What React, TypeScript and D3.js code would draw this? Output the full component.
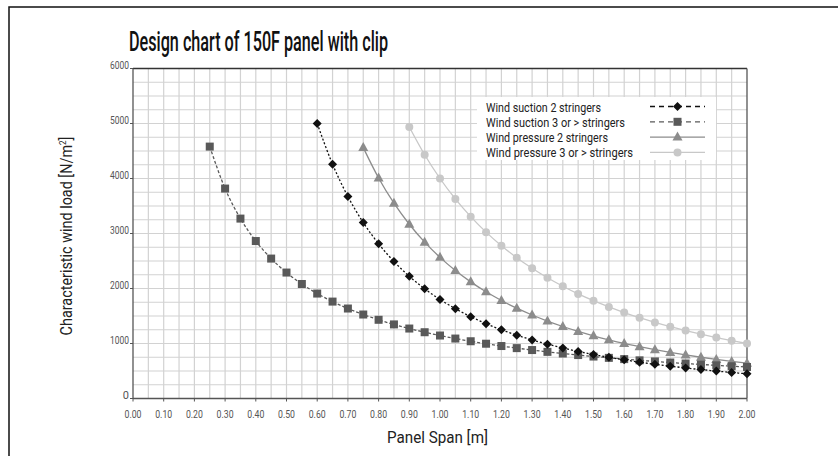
import React from "react";
import * as d3 from "d3";

const spanSuction2 = [0.6, 0.65, 0.7, 0.75, 0.8, 0.85, 0.9, 0.95, 1.0, 1.05, 1.1, 1.15, 1.2, 1.25, 1.3, 1.35, 1.4, 1.45, 1.5, 1.55, 1.6, 1.65, 1.7, 1.75, 1.8, 1.85, 1.9, 1.95, 2.0];
const loadSuction2 = [5000, 4260, 3673, 3200, 2813, 2491, 2222, 1994, 1800, 1633, 1488, 1361, 1250, 1152, 1065, 988, 918, 856, 800, 749, 703, 661, 623, 588, 556, 526, 499, 473, 450];

const spanSuction3 = [0.25, 0.3, 0.35, 0.4, 0.45, 0.5, 0.55, 0.6, 0.65, 0.7, 0.75, 0.8, 0.85, 0.9, 0.95, 1.0, 1.05, 1.1, 1.15, 1.2, 1.25, 1.3, 1.35, 1.4, 1.45, 1.5, 1.55, 1.6, 1.65, 1.7, 1.75, 1.8, 1.85, 1.9, 1.95, 2.0];
const loadSuction3 = [4580, 3817, 3271, 2863, 2544, 2290, 2082, 1908, 1762, 1636, 1527, 1431, 1347, 1272, 1205, 1145, 1090, 1041, 996, 954, 916, 881, 848, 818, 790, 763, 739, 716, 694, 674, 654, 636, 619, 603, 587, 573];

const spanPressure2 = [0.75, 0.8, 0.85, 0.9, 0.95, 1.0, 1.05, 1.1, 1.15, 1.2, 1.25, 1.3, 1.35, 1.4, 1.45, 1.5, 1.55, 1.6, 1.65, 1.7, 1.75, 1.8, 1.85, 1.9, 1.95, 2.0];
const loadPressure2 = [4562, 4009, 3551, 3168, 2843, 2566, 2327, 2121, 1940, 1782, 1642, 1518, 1408, 1309, 1220, 1140, 1068, 1002, 943, 888, 838, 792, 750, 711, 675, 642];

const spanPressure3 = [0.9, 0.95, 1.0, 1.05, 1.1, 1.15, 1.2, 1.25, 1.3, 1.35, 1.4, 1.45, 1.5, 1.55, 1.6, 1.65, 1.7, 1.75, 1.8, 1.85, 1.9, 1.95, 2.0];
const loadPressure3 = [4938, 4432, 4000, 3628, 3306, 3025, 2778, 2560, 2367, 2195, 2041, 1902, 1778, 1665, 1563, 1469, 1384, 1306, 1235, 1169, 1108, 1052, 1000];

const xTicks = [0, 0.1, 0.2, 0.3, 0.4, 0.5, 0.6, 0.7, 0.8, 0.9, 1.0, 1.1, 1.2, 1.3, 1.4, 1.5, 1.6, 1.7, 1.8, 1.9, 2.0];
const yTicks = [0, 1000, 2000, 3000, 4000, 5000, 6000];

const seriesNames = [
  "Wind suction 2 stringers",
  "Wind suction 3 or > stringers",
  "Wind pressure 2 stringers",
  "Wind pressure 3 or > stringers",
];

const FONT = "Roboto, 'Liberation Sans', sans-serif";

type Series = { name: string; xs: number[]; ys: number[]; color: string; dash: string; marker: string; legendDash: string; legendLen: number };

const series: Series[] = [
  { name: seriesNames[3], xs: spanPressure3, ys: loadPressure3, color: "#c8c8c8", dash: "", marker: "circle", legendDash: "", legendLen: 147 },
  { name: seriesNames[2], xs: spanPressure2, ys: loadPressure2, color: "#8c8c8c", dash: "", marker: "triangle", legendDash: "", legendLen: 122 },
  { name: seriesNames[1], xs: spanSuction3, ys: loadSuction3, color: "#595959", dash: "3,2", marker: "square", legendDash: "5,4", legendLen: 139 },
  { name: seriesNames[0], xs: spanSuction2, ys: loadSuction2, color: "#111111", dash: "2,2", marker: "diamond", legendDash: "5,4", legendLen: 115 },
];

function Marker({ type, x, y, color }: { type: string; x: number; y: number; color: string }) {
  if (type === "circle") return <circle cx={x} cy={y} r={4} fill={color} />;
  if (type === "square") return <rect x={x - 4} y={y - 4} width={8} height={8} fill={color} />;
  if (type === "triangle") return <path d={`M${x},${y - 5.5}L${x + 5},${y + 3.5}L${x - 5},${y + 3.5}Z`} fill={color} />;
  return <path d={`M${x},${y - 4.5}L${x + 4.5},${y}L${x},${y + 4.5}L${x - 4.5},${y}Z`} fill={color} />;
}

export default function App() {
  const W = 838, H = 456;
  const L = 133, R = 747, T = 68.5, B = 398.5;
  const x = d3.scaleLinear().domain([0, 2]).range([L, R]);
  const y = d3.scaleLinear().domain([0, 6000]).range([B, T]);

  const vGrid = d3.range(1, 40).map((i) => i * 0.05);
  const hGrid = d3.range(1, 24).map((i) => i * 250);

  const line = d3.line<[number, number]>().x((d) => x(d[0])).y((d) => y(d[1])).curve(d3.curveMonotoneX);

  const legendSeries = seriesNames.map((n) => series.find((s) => s.name === n)!);
  const legY0 = 106.5;
  const legStep = 15.3;

  return (
    <svg width={W} height={H} style={{ position: "absolute", left: 0, top: 0 }} fontFamily={FONT}>
      <rect x={0} y={0} width={W} height={H} fill="#fff" />
      <rect x={9} y={7} width={W + 10} height={H + 10} fill="none" stroke="#111" strokeWidth={1.5} />
      <text x={129} y={51} fontSize={27} fontWeight={500} fill="#111" textLength={259} lengthAdjust="spacingAndGlyphs">
        Design chart of 150F panel with clip
      </text>

      {/* grid */}
      {vGrid.map((v, i) => (
        <line key={"v" + i} x1={x(v)} x2={x(v)} y1={T} y2={B} stroke="#d2d2d2" strokeWidth={1.2} />
      ))}
      {hGrid.map((v, i) => (
        <line key={"h" + i} x1={L} x2={R} y1={y(v)} y2={y(v)} stroke="#d2d2d2" strokeWidth={1.2} />
      ))}

      {/* legend background */}
      <rect x={477} y={97} width={239} height={63} fill="#fff" />

      {/* frame */}
      <line x1={L} x2={R} y1={T} y2={T} stroke="#333" strokeWidth={1.3} />
      <line x1={R} x2={R} y1={T} y2={B} stroke="#555" strokeWidth={1.3} />
      <line x1={L} x2={L} y1={T} y2={B} stroke="#555" strokeWidth={1.3} />
      <line x1={L} x2={R} y1={B} y2={B} stroke="#555" strokeWidth={1.3} />

      {/* ticks */}
      {xTicks.map((v, i) => (
        <g key={"xt" + i}>
          <line x1={x(v)} x2={x(v)} y1={B} y2={B + 3} stroke="#555" />
          <text x={x(v)} y={B + 19} fontSize={11} fill="#555" textAnchor="middle" textLength={17} lengthAdjust="spacingAndGlyphs">
            {v.toFixed(2)}
          </text>
        </g>
      ))}
      {yTicks.map((v, i) => (
        <g key={"yt" + i}>
          <line x1={L - 3} x2={L} y1={y(v)} y2={y(v)} stroke="#555" />
          <text x={L - 4} y={y(v)} fontSize={11} fill="#555" textAnchor="end" textLength={v === 0 ? undefined : 19} lengthAdjust="spacingAndGlyphs">
            {v}
          </text>
        </g>
      ))}

      {/* series */}
      {series.map((s, si) => {
        const pts = s.xs.map((xv, i) => [xv, s.ys[i]] as [number, number]);
        return (
          <g key={"s" + si}>
            <path d={line(pts) || ""} fill="none" stroke={s.color} strokeWidth={1.3} strokeDasharray={s.dash || undefined} />
            {pts.map((p, i) => (
              <Marker key={i} type={s.marker} x={x(p[0])} y={y(p[1])} color={s.color} />
            ))}
          </g>
        );
      })}

      {/* legend */}
      {legendSeries.map((s, i) => {
        const ly = legY0 + i * legStep;
        return (
          <g key={"lg" + i}>
            <text x={486} y={ly + 5} fontSize={13} fill="#222" textLength={s.legendLen} lengthAdjust="spacingAndGlyphs">
              {s.name}
            </text>
            <line x1={650} x2={705} y1={ly} y2={ly} stroke={s.color} strokeWidth={1.3} strokeDasharray={s.legendDash || undefined} />
            <Marker type={s.marker} x={677.5} y={ly} color={s.color} />
          </g>
        );
      })}

      {/* axis titles */}
      <text x={437.5} y={443} fontSize={16} fill="#222" textAnchor="middle" textLength={101} lengthAdjust="spacingAndGlyphs">
        Panel Span [m]
      </text>
      <g transform="translate(72,236) rotate(-90) scale(0.9,1)">
        <text x={0} y={0} fontSize={16} fill="#222" textAnchor="middle">
          Characteristic wind load [N/m
          <tspan fontSize={9} dy={-6}>2</tspan>
          <tspan dy={6}>]</tspan>
        </text>
      </g>
    </svg>
  );
}
